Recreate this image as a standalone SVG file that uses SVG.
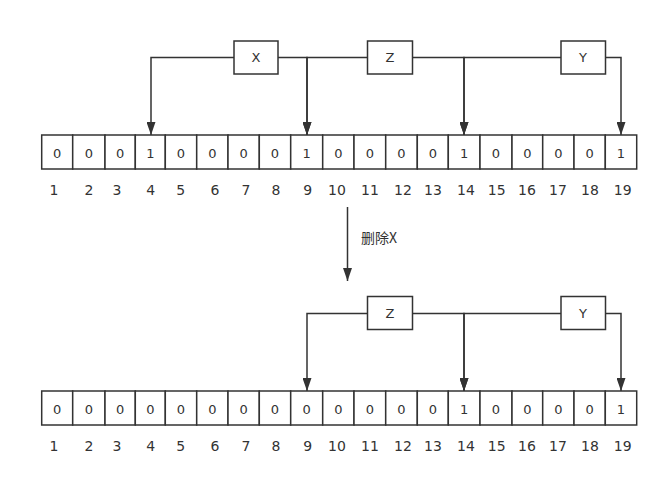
<svg xmlns="http://www.w3.org/2000/svg" width="665" height="489" viewBox="0 0 665 489">
<style>
.box{fill:#fff;stroke:#333;stroke-width:1.5}
.cell{fill:#fff;stroke:#333;stroke-width:1.5}
.t{font-family:"DejaVu Sans",sans-serif;font-size:13px;fill:#333;text-anchor:middle;dominant-baseline:central}
.lb{font-family:"DejaVu Sans",sans-serif;font-size:14px;fill:#333;text-anchor:middle;dominant-baseline:central}
.cn{font-family:"Noto Sans CJK SC",sans-serif;font-size:14px;fill:#333;dominant-baseline:central}
.e{fill:none;stroke:#333;stroke-width:1.5;marker-end:url(#ah)}
</style>
<defs>
<marker id="ah" markerUnits="userSpaceOnUse" markerWidth="13" markerHeight="9" refX="13" refY="4.5" orient="auto">
<path d="M0,0 L13,4.5 L0,9 z" fill="#333"/>
</marker>
</defs>
<g id="connectors">
<path class="e" d="M234,57.5 H151 V135"/>
<path class="e" d="M278,57.5 H307 V135"/>
<path class="e" d="M367,57.5 H307 V135"/>
<path class="e" d="M412,57.5 H464 V135"/>
<path class="e" d="M561,57.5 H464 V135"/>
<path class="e" d="M605,57.5 H621 V135"/>
<path class="e" d="M347.5,207 V281"/>
<path class="e" d="M367,313.5 H307 V391"/>
<path class="e" d="M412,313.5 H464 V391"/>
<path class="e" d="M561,313.5 H464 V391"/>
<path class="e" d="M605,313.5 H621 V391"/>
</g>
<g id="label-delete"><text class="cn" x="361" y="237">删除X</text></g>
<g id="node-X"><rect class="box" x="234" y="41" width="44" height="33"/><text class="t" x="256" y="57.5">X</text></g>
<g id="node-Z"><rect class="box" x="367.5" y="41" width="45" height="33"/><text class="t" x="390" y="57.5">Z</text></g>
<g id="node-Y"><rect class="box" x="561" y="41" width="44.5" height="33"/><text class="t" x="583" y="57.5">Y</text></g>
<g id="node-Z2"><rect class="box" x="367.5" y="296.5" width="45" height="33"/><text class="t" x="390" y="313">Z</text></g>
<g id="node-Y2"><rect class="box" x="561" y="296.5" width="44.5" height="33"/><text class="t" x="583" y="313">Y</text></g>
<g id="array-top">
<rect class="cell" x="41.7" y="135" width="31" height="34"/>
<rect class="cell" x="72.7" y="135" width="32.3" height="34"/>
<rect class="cell" x="105" y="135" width="30.3" height="34"/>
<rect class="cell" x="135.3" y="135" width="30" height="34"/>
<rect class="cell" x="165.3" y="135" width="31.4" height="34"/>
<rect class="cell" x="196.7" y="135" width="31.3" height="34"/>
<rect class="cell" x="228" y="135" width="31.3" height="34"/>
<rect class="cell" x="259.3" y="135" width="31.4" height="34"/>
<rect class="cell" x="290.7" y="135" width="32" height="34"/>
<rect class="cell" x="322.7" y="135" width="31.3" height="34"/>
<rect class="cell" x="354" y="135" width="31.7" height="34"/>
<rect class="cell" x="385.7" y="135" width="31.6" height="34"/>
<rect class="cell" x="417.3" y="135" width="31" height="34"/>
<rect class="cell" x="448.3" y="135" width="31.7" height="34"/>
<rect class="cell" x="480" y="135" width="32" height="34"/>
<rect class="cell" x="512" y="135" width="30.7" height="34"/>
<rect class="cell" x="542.7" y="135" width="31.3" height="34"/>
<rect class="cell" x="574" y="135" width="31.3" height="34"/>
<rect class="cell" x="605.3" y="135" width="31.4" height="34"/>
<text class="t" x="57.2" y="153">0</text>
<text class="t" x="88.8" y="153">0</text>
<text class="t" x="120.2" y="153">0</text>
<text class="t" x="150.3" y="153">1</text>
<text class="t" x="181" y="153">0</text>
<text class="t" x="212.3" y="153">0</text>
<text class="t" x="243.7" y="153">0</text>
<text class="t" x="275" y="153">0</text>
<text class="t" x="306.7" y="153">1</text>
<text class="t" x="338.3" y="153">0</text>
<text class="t" x="369.8" y="153">0</text>
<text class="t" x="401.5" y="153">0</text>
<text class="t" x="432.8" y="153">0</text>
<text class="t" x="464.2" y="153">1</text>
<text class="t" x="496" y="153">0</text>
<text class="t" x="527.3" y="153">0</text>
<text class="t" x="558.3" y="153">0</text>
<text class="t" x="589.7" y="153">0</text>
<text class="t" x="621" y="153">1</text>
<text class="lb" x="54" y="190">1</text>
<text class="lb" x="89" y="190">2</text>
<text class="lb" x="117" y="190">3</text>
<text class="lb" x="150.7" y="190">4</text>
<text class="lb" x="180.7" y="190">5</text>
<text class="lb" x="215" y="190">6</text>
<text class="lb" x="246" y="190">7</text>
<text class="lb" x="276" y="190">8</text>
<text class="lb" x="307.7" y="190">9</text>
<text class="lb" x="337" y="190">10</text>
<text class="lb" x="370" y="190">11</text>
<text class="lb" x="403" y="190">12</text>
<text class="lb" x="433" y="190">13</text>
<text class="lb" x="466" y="190">14</text>
<text class="lb" x="496.7" y="190">15</text>
<text class="lb" x="527" y="190">16</text>
<text class="lb" x="558" y="190">17</text>
<text class="lb" x="590" y="190">18</text>
<text class="lb" x="622.7" y="190">19</text>
</g>
<g id="array-bottom" transform="translate(0,256)">
<rect class="cell" x="41.7" y="135" width="31" height="34"/>
<rect class="cell" x="72.7" y="135" width="32.3" height="34"/>
<rect class="cell" x="105" y="135" width="30.3" height="34"/>
<rect class="cell" x="135.3" y="135" width="30" height="34"/>
<rect class="cell" x="165.3" y="135" width="31.4" height="34"/>
<rect class="cell" x="196.7" y="135" width="31.3" height="34"/>
<rect class="cell" x="228" y="135" width="31.3" height="34"/>
<rect class="cell" x="259.3" y="135" width="31.4" height="34"/>
<rect class="cell" x="290.7" y="135" width="32" height="34"/>
<rect class="cell" x="322.7" y="135" width="31.3" height="34"/>
<rect class="cell" x="354" y="135" width="31.7" height="34"/>
<rect class="cell" x="385.7" y="135" width="31.6" height="34"/>
<rect class="cell" x="417.3" y="135" width="31" height="34"/>
<rect class="cell" x="448.3" y="135" width="31.7" height="34"/>
<rect class="cell" x="480" y="135" width="32" height="34"/>
<rect class="cell" x="512" y="135" width="30.7" height="34"/>
<rect class="cell" x="542.7" y="135" width="31.3" height="34"/>
<rect class="cell" x="574" y="135" width="31.3" height="34"/>
<rect class="cell" x="605.3" y="135" width="31.4" height="34"/>
<text class="t" x="57.2" y="153">0</text>
<text class="t" x="88.8" y="153">0</text>
<text class="t" x="120.2" y="153">0</text>
<text class="t" x="150.3" y="153">0</text>
<text class="t" x="181" y="153">0</text>
<text class="t" x="212.3" y="153">0</text>
<text class="t" x="243.7" y="153">0</text>
<text class="t" x="275" y="153">0</text>
<text class="t" x="306.7" y="153">0</text>
<text class="t" x="338.3" y="153">0</text>
<text class="t" x="369.8" y="153">0</text>
<text class="t" x="401.5" y="153">0</text>
<text class="t" x="432.8" y="153">0</text>
<text class="t" x="464.2" y="153">1</text>
<text class="t" x="496" y="153">0</text>
<text class="t" x="527.3" y="153">0</text>
<text class="t" x="558.3" y="153">0</text>
<text class="t" x="589.7" y="153">0</text>
<text class="t" x="621" y="153">1</text>
<text class="lb" x="54" y="190">1</text>
<text class="lb" x="89" y="190">2</text>
<text class="lb" x="117" y="190">3</text>
<text class="lb" x="150.7" y="190">4</text>
<text class="lb" x="180.7" y="190">5</text>
<text class="lb" x="215" y="190">6</text>
<text class="lb" x="246" y="190">7</text>
<text class="lb" x="276" y="190">8</text>
<text class="lb" x="307.7" y="190">9</text>
<text class="lb" x="337" y="190">10</text>
<text class="lb" x="370" y="190">11</text>
<text class="lb" x="403" y="190">12</text>
<text class="lb" x="433" y="190">13</text>
<text class="lb" x="466" y="190">14</text>
<text class="lb" x="496.7" y="190">15</text>
<text class="lb" x="527" y="190">16</text>
<text class="lb" x="558" y="190">17</text>
<text class="lb" x="590" y="190">18</text>
<text class="lb" x="622.7" y="190">19</text>
</g>
</svg>
